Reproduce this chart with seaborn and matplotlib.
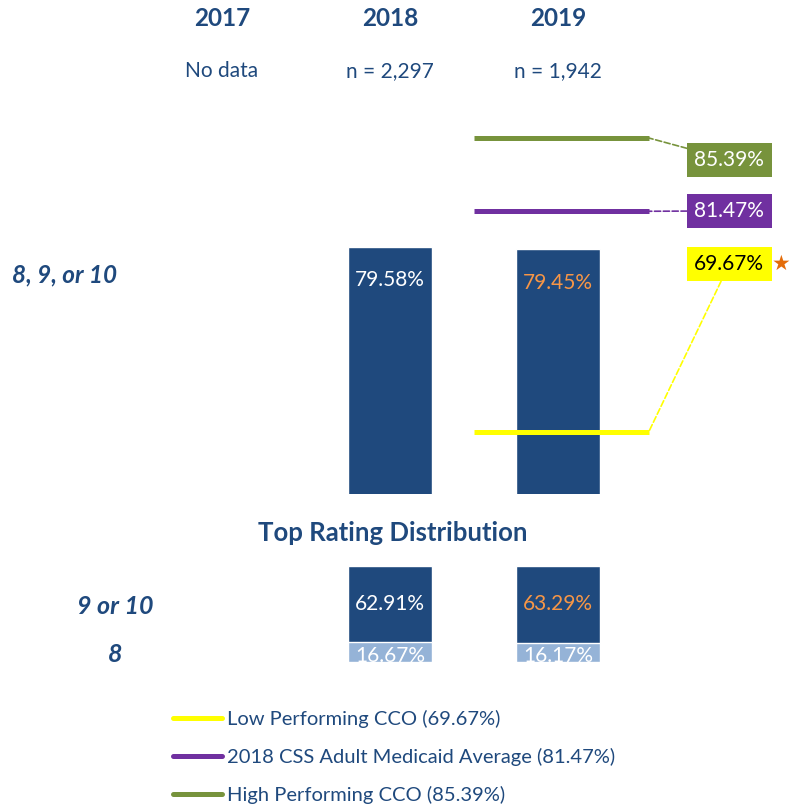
import numpy as np
import pandas as pd
import matplotlib
matplotlib.use("Agg")
import matplotlib.pyplot as plt
import seaborn as sns
from matplotlib.lines import Line2D

sns.set_theme(style="white")
plt.rcParams['font.family'] = ['Lato', 'DejaVu Sans']

years = ['2017', '2018', '2019']
n_labels = ['No data', 'n = 2,297', 'n = 1,942']
top_box = [np.nan, 79.58, 79.45]        # 8, 9, or 10
rating_9_10 = [np.nan, 62.91, 63.29]
rating_8 = [np.nan, 16.67, 16.17]
value_colors = ['white', 'white', '#F79646']

bench_names = ['Low Performing CCO', '2018 CSS Adult Medicaid Average', 'High Performing CCO']
bench_values = [69.67, 81.47, 85.39]
bench_colors = ['#FFFF00', '#7030A0', '#77933C']
bench_label_y = [78.65, 81.49, 84.22]
bench_text_colors = ['black', 'white', 'white']

navy = '#1F497D'
light = '#95B3D7'
W, H = 791, 810

fig = plt.figure(figsize=(W / 100, H / 100), dpi=100)
xlim = (-222 / 168, (W - 222) / 168)

# top panel
ax = fig.add_axes([0, (H - 494) / H, 1, 394 / H])
df_top = pd.DataFrame({'year': years, 'value': top_box}).dropna()
sns.barplot(data=df_top, x='year', y='value', order=years, color=navy,
            saturation=1, width=0.5, ax=ax)
ax.set_xlim(*xlim)
ax.set_ylim(66.35, 87.42)
ax.axis('off')

for i, v in enumerate(top_box):
    if not np.isnan(v):
        ax.text(i, v - 1.8, f'{v:.2f}%', ha='center', va='center',
                fontsize=15, color=value_colors[i])

for name, v, c, ly, tc in zip(bench_names, bench_values, bench_colors,
                              bench_label_y, bench_text_colors):
    ax.plot([1.5, 2.54], [v, v], color=c, lw=3.6, solid_capstyle='butt')
    ax.annotate(f'{v:.2f}%', xy=(2.54, v), xytext=(3.02, ly), ha='center', va='center',
                fontsize=15, color=tc,
                bbox=dict(boxstyle='square,pad=0.35', fc=c, ec='none'),
                arrowprops=dict(arrowstyle='-', linestyle='--', color=c, lw=1.2,
                                shrinkA=0, shrinkB=0))
ax.text(3.33, bench_label_y[0], '★', ha='center', va='center', fontsize=15,
        color='#E46C0A', family=['DejaVu Sans'])

# bottom panel
ax2 = fig.add_axes([0, (H - 662) / H, 1, 102 / H])
totals = [a + b for a, b in zip(rating_9_10, rating_8)]
df_bot = pd.DataFrame({'year': years, 'total': totals, 'r8': rating_8}).dropna()
sns.barplot(data=df_bot, x='year', y='total', order=years, color=navy,
            saturation=1, width=0.5, ax=ax2)
sns.barplot(data=df_bot, x='year', y='r8', order=years, color=light,
            saturation=1, width=0.5, ax=ax2)
ax2.set_xlim(*xlim)
ax2.set_ylim(0, 84.6)
ax2.axis('off')
for i in range(len(years)):
    if not np.isnan(rating_8[i]):
        ax2.text(i, rating_8[i] + rating_9_10[i] / 2, f'{rating_9_10[i]:.2f}%',
                 ha='center', va='center', fontsize=15, color=value_colors[i])
        ax2.text(i, 5, f'{rating_8[i]:.2f}%', ha='center',
                 va='center', fontsize=15, color='white', clip_on=True)

# headers and row labels
for i, (y, n) in enumerate(zip(years, n_labels)):
    fx = (222 + 168 * i) / W
    fig.text(fx, 1 - 18 / H, y, ha='center', va='center', fontsize=17.5,
             fontweight='bold', color=navy)
    fig.text(fx, 1 - 71 / H, n, ha='center', va='center', fontsize=15, color=navy)

fig.text(65 / W, 1 - 275 / H, '8, 9, or 10', ha='center', va='center', fontsize=17.5,
         fontweight='bold', style='italic', color=navy)
fig.text(393 / W, 1 - 533 / H, 'Top Rating Distribution', ha='center', va='center',
         fontsize=18.5, fontweight='bold', color=navy)
fig.text(115 / W, 1 - 607 / H, '9 or 10', ha='center', va='center', fontsize=18,
         fontweight='bold', style='italic', color=navy)
fig.text(115 / W, 1 - 655 / H, '8', ha='center', va='center', fontsize=18,
         fontweight='bold', style='italic', color=navy)

handles = [Line2D([0], [0], color=c, lw=3.6) for c in bench_colors]
labels = [f'{n} ({v:.2f}%)' for n, v in zip(bench_names, bench_values)]
leg = fig.legend(handles, labels, loc='upper left', bbox_to_anchor=(173 / W, 1 - 710 / H),
                 frameon=False, fontsize=14.5, handlelength=2.45, handletextpad=0.25,
                 labelspacing=1.0, borderpad=0, borderaxespad=0)
for t in leg.get_texts():
    t.set_color(navy)

fig.savefig('out.png', dpi=100)
